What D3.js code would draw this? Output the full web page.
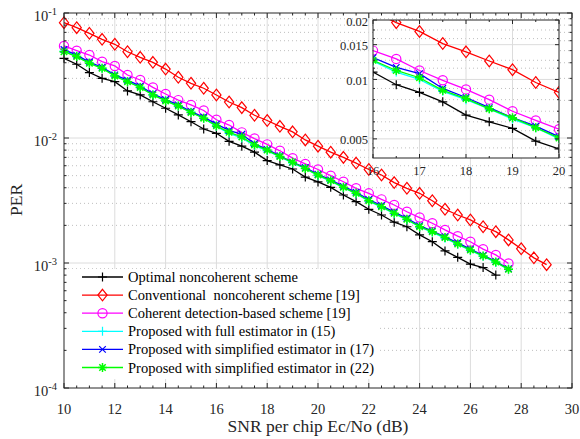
<!DOCTYPE html>
<html><head><meta charset="utf-8">
<script src="https://cdnjs.cloudflare.com/ajax/libs/d3/7.8.5/d3.min.js"></script>
<style>
body{margin:0;background:#fff;}
svg, svg text{font-family:"Liberation Serif","Times New Roman",Times,serif;}
</style></head>
<body><svg id="chart" width="580" height="439" font-family="Liberation Serif, Times New Roman, serif"></svg>
<script>
// ---------- data ----------
const snrBlack = [10,10.5,11,11.5,12,12.5,13,13.5,14,14.5,15,15.5,16,16.5,17,17.5,18,18.5,19,19.5,20,20.5,21,21.5,22,22.5,23,23.5,24,24.5,25,25.5,26,26.5,27];
const snrRed = [10,10.5,11,11.5,12,12.5,13,13.5,14,14.5,15,15.5,16,16.5,17,17.5,18,18.5,19,19.5,20,20.5,21,21.5,22,22.5,23,23.5,24,24.5,25,25.5,26,26.5,27,27.5,28,28.5,29];
const snrOthers = [10,10.5,11,11.5,12,12.5,13,13.5,14,14.5,15,15.5,16,16.5,17,17.5,18,18.5,19,19.5,20,20.5,21,21.5,22,22.5,23,23.5,24,24.5,25,25.5,26,26.5,27,27.5];

const perOptimal = [0.0434,0.0389,0.0334,0.0300,0.0282,0.0238,0.0221,0.0195,0.0173,0.0153,0.0135,0.0118,0.0109,
  0.0094,0.0086,0.0077,0.0066,0.0061,0.00565,0.00487,0.00445,
  0.00403,0.00350,0.00310,0.00269,0.00242,0.00212,0.00195,0.00168,0.00148,0.00125,0.00111,0.00098,0.00092,0.00080];
const perConventional = [0.0837,0.0763,0.0688,0.0616,0.0562,0.0490,0.0442,0.0403,0.0356,0.0306,0.0274,0.0250,0.0221,
  0.0194,0.0175,0.0152,0.0138,0.0124,0.0112,0.00965,0.0086,
  0.0077,0.0070,0.0063,0.0056,0.00506,0.0044,0.00396,0.00361,0.00315,0.00269,0.00242,0.00221,0.00195,0.00178,0.00153,0.0013,0.0011,0.00097];
const perCoherent = [0.0545,0.0500,0.0461,0.0408,0.0377,0.0319,0.0291,0.0254,0.0225,0.0201,0.0184,0.0166,0.0140,
  0.0127,0.0111,0.0099,0.0089,0.0079,0.0069,0.0062,0.0056,
  0.0050,0.00447,0.00396,0.00361,0.00323,0.00291,0.00257,0.00231,0.00208,0.00184,0.00164,0.00148,0.00129,0.00116,0.00099];
const perFull15 = [0.0495,0.0450,0.0398,0.0362,0.0315,0.0283,0.0255,0.0222,0.0199,0.0180,0.0161,0.0144,0.0124,
  0.0109,0.0100,0.0087,0.0079,0.0071,0.0063,0.0057,0.00500,
  0.00452,0.00400,0.00358,0.00313,0.00280,0.00248,0.00222,0.00194,0.00176,0.00158,0.00141,0.00126,0.00113,0.00101,0.00089];
const perSimp17 = [0.0510,0.0460,0.0405,0.0368,0.0320,0.0290,0.0260,0.0226,0.0203,0.0184,0.0163,0.0147,0.0129,
  0.0115,0.0107,0.0090,0.0081,0.0072,0.0064,0.0058,0.00512,
  0.00462,0.00410,0.00368,0.00322,0.00288,0.00255,0.00228,0.00199,0.00180,0.00162,0.00145,0.00129,0.00115,0.00103,0.00090];
const perSimp22 = [0.0490,0.0448,0.0396,0.0361,0.0313,0.0282,0.0254,0.0221,0.0198,0.0180,0.0160,0.0144,0.0125,
  0.0111,0.0102,0.0088,0.0080,0.0071,0.0064,0.0057,0.00505,
  0.00456,0.00403,0.00361,0.00315,0.00282,0.00250,0.00224,0.00195,0.00178,0.00160,0.00142,0.00127,0.00114,0.00102,0.00089];

const seriesNames = ["Optimal noncoherent scheme","Conventional  noncoherent scheme [19]","Coherent detection-based scheme [19]",
  "Proposed with full estimator in (15)","Proposed with simplified estimator in (17)","Proposed with simplified estimator in (22)"];
const seriesColors = ["#000000","#ff0000","#ff00ff","#00ffff","#0000ff","#00ff00"];
const seriesMarkers = ["plus","diamond","circle","plus","x","star"];

const xTicks = [10,12,14,16,18,20,22,24,26,28,30];
const yTickExps = [-4,-3,-2,-1];
const insetXTicks = [16,17,18,19,20];
const insetYTicks = [0.005,0.01,0.015,0.02];
const insetYMinor = [0.0045,0.0055,0.0061,0.0069,0.0079,0.009,0.0114,0.0125,0.0161,0.0178];

const series = [
  {x:snrBlack, y:perOptimal},{x:snrRed, y:perConventional},{x:snrOthers, y:perCoherent},
  {x:snrOthers, y:perFull15},{x:snrOthers, y:perSimp17},{x:snrOthers, y:perSimp22}
].map((s,i)=>({name:seriesNames[i],color:seriesColors[i],marker:seriesMarkers[i],
  pts:s.x.map((v,j)=>({x:v,y:s.y[j]}))}));

// ---------- layout ----------
const FONT = "Liberation Serif, Times New Roman, serif";
const svg = d3.select("#chart");
const M = {l:64, r:572, t:13, b:388};
const x = d3.scaleLinear().domain([10,30]).range([M.l,M.r]);
const y = d3.scaleLog().domain([1e-4,1e-1]).range([M.b,M.t]);
const gridSolid = "#dcdcdc", gridDot = "#bfbfbf";

function markerPath(type){
  switch(type){
    case "plus": return "M-4.5,0H4.5M0,-4.5V4.5";
    case "diamond": return "M0,-5.8L4.6,0L0,5.8L-4.6,0Z";
    case "x": return "M-3.3,-3.3L3.3,3.3M-3.3,3.3L3.3,-3.3";
    case "star": return "M-4.5,0H4.5M0,-4.5V4.5M-3.2,-3.2L3.2,3.2M-3.2,3.2L3.2,-3.2";
  }
}
function drawMarker(g, type, color){
  if(type==="circle"){
    g.append("circle").attr("r",4.6).attr("fill","none").attr("stroke",color).attr("stroke-width",1.2);
  } else {
    g.append("path").attr("d",markerPath(type)).attr("fill","none")
      .attr("stroke",color).attr("stroke-width",type==="star"?1.5:1.2);
  }
}
function txt(g){ return g.append("text").attr("font-family",FONT); }

// main background
svg.append("rect").attr("x",M.l).attr("y",M.t).attr("width",M.r-M.l).attr("height",M.b-M.t).attr("fill","#fff");

// grid
const gGrid = svg.append("g");
const minorY = [];
for(let e=-4;e<-1+0.001;e++){ for(let k=2;k<=9;k++){ const v=k*Math.pow(10,e); if(v<1e-1) minorY.push(v);} }
gGrid.selectAll(".my").data(minorY).enter().append("line")
  .attr("x1",M.l).attr("x2",M.r).attr("y1",d=>y(d)).attr("y2",d=>y(d))
  .attr("stroke",gridDot).attr("stroke-width",1).attr("stroke-dasharray","1,3");
gGrid.selectAll(".gx").data(xTicks.slice(1,-1)).enter().append("line")
  .attr("x1",d=>x(d)).attr("x2",d=>x(d)).attr("y1",M.t).attr("y2",M.b)
  .attr("stroke",gridSolid).attr("stroke-width",1);
gGrid.selectAll(".gy").data(yTickExps.slice(1,-1)).enter().append("line")
  .attr("x1",M.l).attr("x2",M.r).attr("y1",d=>y(Math.pow(10,d))).attr("y2",d=>y(Math.pow(10,d)))
  .attr("stroke",gridSolid).attr("stroke-width",1);

// series
function drawSeries(g, xs, ys, filter){
  series.forEach(s=>{
    const pts = s.pts.filter(filter);
    g.append("path").datum(pts).attr("d",d3.line().x(d=>xs(d.x)).y(d=>ys(d.y)))
      .attr("fill","none").attr("stroke",s.color).attr("stroke-width",1.3);
    pts.forEach(p=>{
      const m = g.append("g").attr("transform",`translate(${xs(p.x)},${ys(p.y)})`);
      drawMarker(m, s.marker, s.color);
    });
  });
}
drawSeries(svg.append("g"), x, y, ()=>true);

// axes box and ticks
const gAx = svg.append("g").attr("stroke","#262626").attr("stroke-width",1);
gAx.append("rect").attr("x",M.l).attr("y",M.t).attr("width",M.r-M.l).attr("height",M.b-M.t).attr("fill","none");
const xMinor = d3.range(10,30.01,0.5).filter(v=>v%2!==0);
xTicks.forEach(v=>{
  gAx.append("line").attr("x1",x(v)).attr("x2",x(v)).attr("y1",M.b).attr("y2",M.b-5);
  gAx.append("line").attr("x1",x(v)).attr("x2",x(v)).attr("y1",M.t).attr("y2",M.t+5);
});
xMinor.forEach(v=>{
  gAx.append("line").attr("x1",x(v)).attr("x2",x(v)).attr("y1",M.b).attr("y2",M.b-2.5);
  gAx.append("line").attr("x1",x(v)).attr("x2",x(v)).attr("y1",M.t).attr("y2",M.t+2.5);
});
yTickExps.forEach(e=>{
  const yy=y(Math.pow(10,e));
  gAx.append("line").attr("x1",M.l).attr("x2",M.l+5).attr("y1",yy).attr("y2",yy);
  gAx.append("line").attr("x1",M.r).attr("x2",M.r-5).attr("y1",yy).attr("y2",yy);
});
minorY.forEach(v=>{
  gAx.append("line").attr("x1",M.l).attr("x2",M.l+2.5).attr("y1",y(v)).attr("y2",y(v));
  gAx.append("line").attr("x1",M.r).attr("x2",M.r-2.5).attr("y1",y(v)).attr("y2",y(v));
});

// tick labels
const gLab = svg.append("g").attr("fill","#262626");
xTicks.forEach(v=>{
  txt(gLab).attr("x",x(v)).attr("y",414).attr("text-anchor","middle").attr("font-size",14.5).text(v);
});
yTickExps.forEach(e=>{
  const yy=y(Math.pow(10,e));
  const t = txt(gLab).attr("x",57).attr("y",yy+8).attr("text-anchor","end").attr("font-size",14.5);
  t.append("tspan").text("10");
  t.append("tspan").attr("font-size",10.5).attr("dy",-6).text(String(e));
});
txt(gLab).attr("x",318).attr("y",432).attr("text-anchor","middle").attr("font-size",17.5).text("SNR per chip Ec/No (dB)");
txt(gLab).attr("transform","translate(22,200) rotate(-90)").attr("text-anchor","middle").attr("font-size",17.5).text("PER");

// ---------- legend ----------
const L = {x:67, y:269, w:310, h:110};
const gL = svg.append("g");
gL.append("rect").attr("x",L.x).attr("y",L.y).attr("width",L.w).attr("height",L.h).attr("fill","#fff");
series.forEach((s,i)=>{
  const yy = 277 + i*18.1;
  gL.append("line").attr("x1",82).attr("x2",123).attr("y1",yy).attr("y2",yy).attr("stroke",s.color).attr("stroke-width",1.3);
  drawMarker(gL.append("g").attr("transform",`translate(102.5,${yy})`), s.marker, s.color);
  txt(gL).attr("x",128).attr("y",yy+5).attr("font-size",14.5).attr("fill","#000")
    .attr("xml:space","preserve").style("white-space","pre").text(s.name);
});

// ---------- inset ----------
const I = {l:373, r:559, t:20, b:158};
const xi = d3.scaleLinear().domain([16,20]).range([I.l,I.r]);
const yi = d3.scaleLog().domain([0.004,0.02]).range([I.b,I.t]);
const gI = svg.append("g");
gI.append("rect").attr("x",I.l).attr("y",I.t).attr("width",I.r-I.l).attr("height",I.b-I.t).attr("fill","#fff");
gI.selectAll(".imy").data(insetYMinor).enter().append("line")
  .attr("x1",I.l).attr("x2",I.r).attr("y1",d=>yi(d)).attr("y2",d=>yi(d))
  .attr("stroke",gridDot).attr("stroke-dasharray","1,3");
gI.selectAll(".igx").data([17,18,19]).enter().append("line")
  .attr("x1",d=>xi(d)).attr("x2",d=>xi(d)).attr("y1",I.t).attr("y2",I.b).attr("stroke",gridSolid);
gI.selectAll(".igy").data([0.005,0.01,0.015]).enter().append("line")
  .attr("x1",I.l).attr("x2",I.r).attr("y1",d=>yi(d)).attr("y2",d=>yi(d)).attr("stroke",gridSolid);
svg.append("defs").append("clipPath").attr("id","ic").append("rect")
  .attr("x",I.l).attr("y",I.t).attr("width",I.r-I.l).attr("height",I.b-I.t);
drawSeries(gI.append("g").attr("clip-path","url(#ic)"), xi, yi, p=>p.x>=16&&p.x<=20);
const gIA = gI.append("g").attr("stroke","#262626");
gIA.append("rect").attr("x",I.l).attr("y",I.t).attr("width",I.r-I.l).attr("height",I.b-I.t).attr("fill","none");
insetXTicks.forEach(v=>{
  gIA.append("line").attr("x1",xi(v)).attr("x2",xi(v)).attr("y1",I.b).attr("y2",I.b-4);
  gIA.append("line").attr("x1",xi(v)).attr("x2",xi(v)).attr("y1",I.t).attr("y2",I.t+4);
});
[16.5,17.5,18.5,19.5].forEach(v=>{
  gIA.append("line").attr("x1",xi(v)).attr("x2",xi(v)).attr("y1",I.b).attr("y2",I.b-2);
  gIA.append("line").attr("x1",xi(v)).attr("x2",xi(v)).attr("y1",I.t).attr("y2",I.t+2);
});
insetYTicks.forEach(v=>{
  gIA.append("line").attr("x1",I.l).attr("x2",I.l+4).attr("y1",yi(v)).attr("y2",yi(v));
  gIA.append("line").attr("x1",I.r).attr("x2",I.r-4).attr("y1",yi(v)).attr("y2",yi(v));
});
insetYMinor.forEach(v=>{
  gIA.append("line").attr("x1",I.l).attr("x2",I.l+2).attr("y1",yi(v)).attr("y2",yi(v));
  gIA.append("line").attr("x1",I.r).attr("x2",I.r-2).attr("y1",yi(v)).attr("y2",yi(v));
});
insetXTicks.forEach(v=>{
  txt(gI).attr("x",xi(v)).attr("y",175).attr("text-anchor","middle").attr("font-size",12.5).attr("fill","#262626").text(v);
});
insetYTicks.forEach(v=>{
  txt(gI).attr("x",368).attr("y",yi(v)+5.5).attr("text-anchor","end").attr("font-size",12.5).attr("fill","#262626").text(v);
});
</script></body></html>
